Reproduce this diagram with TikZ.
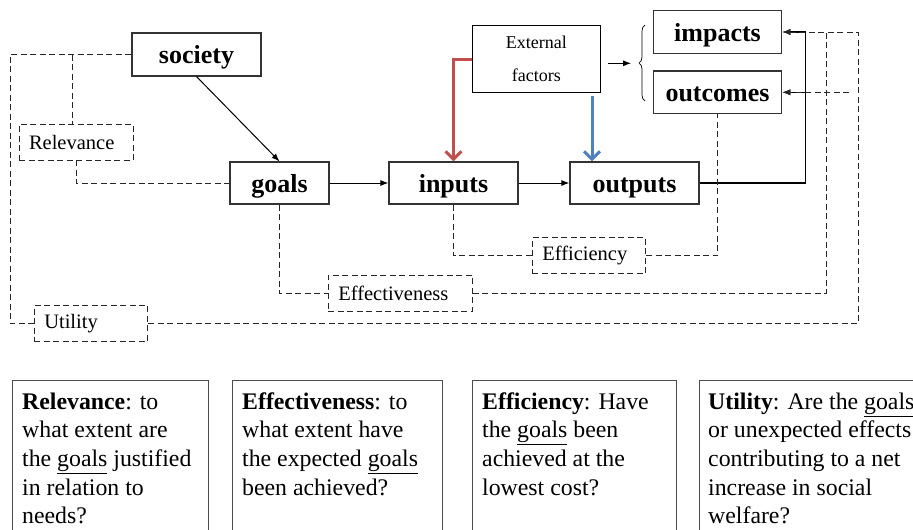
\documentclass[tikz,border=0pt]{standalone}
\usepackage{fontspec}
\setmainfont{Liberation Serif}
\usetikzlibrary{arrows.meta,decorations.pathreplacing,calc}
\definecolor{exred}{HTML}{C0504D}
\definecolor{exblue}{HTML}{4F81BD}
\tikzset{
  solidbox/.style={draw=black!80, line width=1.1pt, inner sep=0pt, text height=18pt, text depth=0pt,
     font=\fontsize{26}{28}\selectfont\bfseries},
  dashbox/.style={draw=black!85, line width=0.9pt, dash pattern=on 6pt off 3.5pt, inner sep=0pt, minimum height=36pt,
     align=left, font=\fontsize{20.5}{24}\selectfont},
  dl/.style={draw=black!85, line width=0.9pt, dash pattern=on 6pt off 3.5pt},
  ar/.style={line width=1pt, -{Latex[length=8pt,width=6pt]}},
  defbox/.style={draw=black!70, line width=0.8pt, inner sep=0pt, anchor=north west, minimum height=200pt},
  deftext/.style={inner sep=0pt, anchor=north west, align=left, font=\fontsize{23.8}{28.7}\selectfont},
}
\begin{document}
\begin{tikzpicture}[x=1pt,y=-1pt]
\useasboundingbox (0,0) rectangle (913,530);
\clip (0,0) rectangle (913,530);

% main nodes
\node[solidbox, minimum width=129pt, minimum height=43pt] (society) at (196.5,54.5) {society};
\node[solidbox, minimum width=99pt, minimum height=42pt] (goals) at (279.5,183) {goals};
\node[solidbox, minimum width=129pt, minimum height=42pt] (inputs) at (453.5,183) {inputs};
\node[solidbox, minimum width=129pt, minimum height=42pt] (outputs) at (634.5,183) {outputs};
\node[solidbox, minimum width=128.5pt, minimum height=42.7pt] (impacts) at (717.5,32) {impacts};
\node[solidbox, minimum width=128.5pt, minimum height=42.7pt] (outcomes) at (717.5,92.3) {outcomes};
\node[draw=black, line width=0.9pt, inner sep=0pt, minimum width=128.7pt, minimum height=66.7pt,
      align=center, font=\fontsize{18}{33}\selectfont] (external) at (536.3,59) {External\\factors};

% dashed criteria boxes
\node[dashbox, minimum width=114pt, text width=94pt] (relevance) at (76,142) {Relevance};
\node[dashbox, minimum width=113.4pt, text width=93.4pt] (efficiency) at (589,255.7) {Efficiency};
\node[dashbox, minimum width=144pt, text width=124pt] (effectiveness) at (400.3,293.3) {Effectiveness};
\node[dashbox, minimum width=113.4pt, text width=93.4pt] (utility) at (91,323.5) {Utility};

% coordinates for bus lines
\coordinate (sbus) at (805.7,183);
\coordinate (sbusmid) at (805.7,92.3);
\coordinate (efftop) at (826.3,32);
\coordinate (utop) at (858.3,32);
\coordinate (ofree) at (849.3,92.3);
\coordinate (leftbus) at (10,54.5);
\coordinate (relbranch) at (72,54.5);

% solid arrows
\draw[ar] (society.south) -- (goals.north);
\draw[ar] (goals.east) -- (inputs.west);
\draw[ar] (inputs.east) -- (outputs.west);
\draw[line width=1.2pt] (outputs.east) -- (sbus);
\draw[ar, line width=1.2pt] (sbus) |- (impacts.east);
\draw[ar, line width=1.2pt] (sbusmid) -- (outcomes.east);
\draw[ar] ([xshift=7.3pt,yshift=-4.3pt]external.east) -- ++(22.7,0);
\draw[line width=0.7pt, decorate, decoration={brace, amplitude=6pt}] (645,101) -- (645,25);

% external factor arrows
\draw[exred, line width=3pt, -{Straight Barb[length=8pt,width=16pt]}] (external.west) -| (inputs.north);
\draw[exblue, line width=3pt, -{Straight Barb[length=8pt,width=16pt]}] ([xshift=55.7pt,yshift=-3pt]external.south) -- ([xshift=-42.5pt]outputs.north);

% dashed connectors
\draw[dl] (society.west) -- (leftbus) |- (utility.west);
\draw[dl] (relbranch) -- (relbranch |- relevance.north);
\draw[dl] (relevance.south) |- (goals.west);
\draw[dl] (goals.south) |- (effectiveness.west);
\draw[dl] (inputs.south) |- (efficiency.west);
\draw[dl] (efficiency.east) -| (outcomes.south);
\draw[dl] (effectiveness.east) -| (efftop);
\draw[dl, -{Latex[length=8pt,width=6pt]}] (utility.east) -| (utop) -- (impacts.east);
\draw[dl, -{Latex[length=8pt,width=6pt]}] (ofree) -- (outcomes.east);

% definition boxes
\node[defbox, minimum width=196pt] (d1) at (12,380.3) {};
\node[defbox, minimum width=210pt] (d2) at (232,380.3) {};
\node[defbox, minimum width=204pt] (d3) at (472,380.3) {};
\node[defbox, minimum width=250pt] (d4) at (699,380.3) {};

\node[deftext] (t1) at (22,388.9) {\strut\textbf{Relevance}: to\\what extent are\\the \underline{goals} justified\\in relation to\\needs?};
\node[deftext] (t2) at (242,388.9) {\strut\textbf{Effectiveness}: to\\what extent have\\the expected \underline{goals}\\been achieved?};
\node[deftext] (t3) at (482,388.9) {\strut\textbf{Efficiency}: Have\\the \underline{goals} been\\achieved at the\\lowest cost?};
\node[deftext] (t4) at (708,388.9) {\strut\textbf{Utility}: Are the \underline{goals}\\or unexpected effects\\contributing to a net\\increase in social\\welfare?};
\end{tikzpicture}
\end{document}
